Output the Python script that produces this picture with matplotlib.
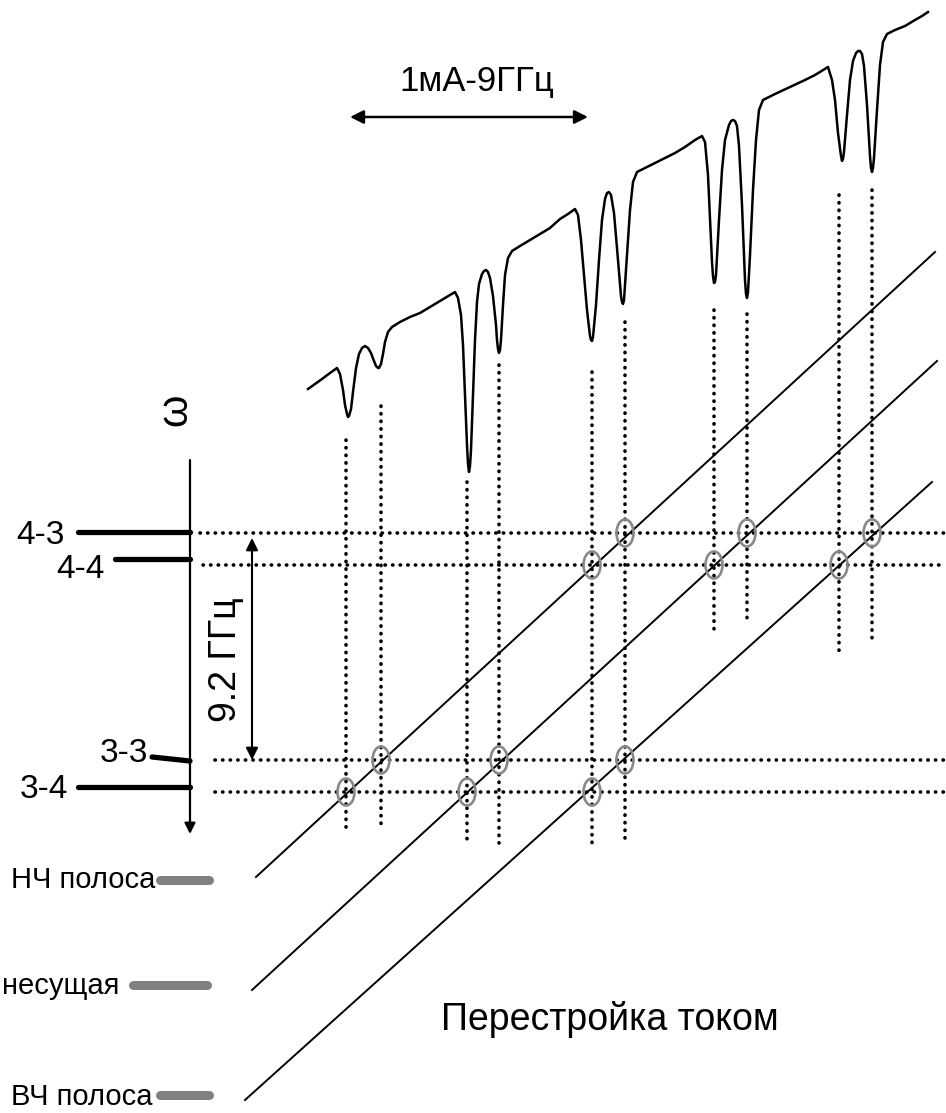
import matplotlib
matplotlib.use("Agg")
import matplotlib.pyplot as plt
from matplotlib.patches import Ellipse

# --- data (pixel coordinates of the schematic) ---
TRACE_X = [308, 315, 322, 330, 337,
           340, 343, 345, 347, 348, 349, 351, 353, 356, 359, 362, 365, 368, 371, 374, 376, 378, 379,
           381, 383, 385, 388, 392,
           400, 410, 420, 430, 440, 450, 455,
           458, 461, 463, 465, 467, 468, 469, 470, 471, 473, 475, 477, 479, 482, 484, 486, 488, 490,
           493, 496, 497, 498, 499, 500, 501, 503, 505, 508, 512,
           520, 530, 540, 550, 560, 568, 575,
           578, 581, 584, 587, 589, 590, 591, 592, 593, 596, 599, 602, 605, 607, 609, 611, 614, 617,
           620, 621, 622, 623, 624, 627, 630, 633, 637,
           645, 655, 665, 675, 685, 695, 702,
           705, 708, 711, 712, 713, 714, 715, 716, 719, 722, 725, 729, 731, 733, 735, 737, 739, 742,
           744, 745, 746, 747, 748, 750, 753, 756, 759, 763,
           775, 790, 805, 815, 828,
           832, 835, 838, 840, 841, 842, 843, 844, 847, 850, 853, 856, 858, 860, 862, 864, 867, 869,
           870, 871, 872, 873, 874, 877, 880, 883, 887,
           895, 905, 915, 922, 928]
TRACE_Y = [389, 384, 379, 373, 368,
           374, 390, 405, 414, 417, 416, 409, 392, 368, 354, 348, 346, 348, 353, 361, 366, 368, 368,
           364, 354, 342, 332, 327,
           322, 317, 313, 307, 301, 295, 292,
           298, 315, 345, 395, 445, 464, 472, 466, 450, 395, 340, 302, 284, 274, 271, 270, 272, 278,
           296, 325, 340, 349, 353, 350, 340, 305, 275, 258, 251,
           246, 240, 234, 228, 219, 214, 209,
           215, 240, 275, 310, 328, 336, 340, 341, 337, 305, 260, 220, 199, 193, 192, 195, 213, 248,
           285, 296, 302, 304, 300, 255, 210, 182, 172,
           168, 163, 158, 153, 147, 140, 136,
           142, 175, 240, 262, 276, 283, 282, 275, 220, 170, 140, 125, 121, 120, 121, 126, 146, 205,
           256, 280, 294, 298, 292, 255, 190, 140, 110, 100,
           94, 87, 80, 75, 67,
           80, 100, 133, 148, 156, 161, 159, 152, 115, 80, 61, 53, 51, 51, 54, 66, 105, 140,
           156, 168, 172, 168, 158, 110, 65, 42, 34,
           30, 26, 20, 16, 12]

# positions of the absorption dips (vertical dotted markers)
DIP_X = [346, 381, 467, 499, 592, 625, 714, 747, 839, 872]
DIP_TOP = [440, 406, 482, 365, 372, 322, 310, 314, 195, 190]
DIP_BOT = [830, 828, 843, 843, 845, 845, 635, 624, 652, 638]

# hyperfine levels: label, level line (x0, y0, x1, y1), label position
LEVEL_NAMES = ["4-3", "4-4", "3-3", "3-4"]
LEVEL_SEG = [(78, 532, 190, 532), (115, 559, 190, 559), (152, 757, 190, 761), (78, 787, 190, 787)]
LEVEL_LABEL_XY = [(40, 535), (80, 570), (124, 753), (44, 790)]
DOT_Y = [533, 565, 760, 792]
DOT_X0 = [200, 203, 215, 215]

# crossings marked with grey ellipses: (dip index, level index)
CROSS = [(0, 3), (1, 2), (4, 1), (5, 0),
         (2, 3), (3, 2), (6, 1), (7, 0),
         (4, 3), (5, 2), (8, 1), (9, 0)]

# laser modes: label, grey bar, tuning line
MODE_NAMES = ["НЧ полоса", "несущая", "ВЧ полоса"]
MODE_LABEL_XY = [(11, 880), (2, 986), (11, 1097)]
MODE_BAR = [(160, 209, 880), (133, 207, 985), (160, 209, 1095)]
TUNE_LINES = [(256, 877, 935, 252), (252, 990, 937, 361), (245, 1100, 932, 482)]

REG = ["Liberation Sans", "DejaVu Sans"]
DOT = (0, (0.1, 2.0))

fig = plt.figure(figsize=(9.46, 11.13), dpi=100)
ax = fig.add_axes([0, 0, 1, 1])
ax.set_xlim(0, 946)
ax.set_ylim(1113, 0)
ax.axis("off")

# trace
ax.plot(TRACE_X, TRACE_Y, color="black", lw=1.8, solid_joinstyle="round")

# vertical dotted lines under the dips
for x, t, b in zip(DIP_X, DIP_TOP, DIP_BOT):
    ax.plot([x, x], [t, b], color="black", lw=2.6, ls=DOT, dash_capstyle="round")

# horizontal dotted lines at the levels
for y, x0 in zip(DOT_Y, DOT_X0):
    ax.plot([x0, 946], [y, y], color="black", lw=2.6, ls=DOT, dash_capstyle="round")

# tuning lines
for x0, y0, x1, y1 in TUNE_LINES:
    ax.plot([x0, x1], [y0, y1], color="black", lw=1.4)

# crossing ellipses
for i, j in CROSS:
    ax.add_patch(Ellipse((DIP_X[i], DOT_Y[j]), 17, 27, fill=False,
                         edgecolor="#888888", lw=1.9, zorder=3))

# frequency axis
ax.annotate("", xy=(190, 834), xytext=(190, 460),
            arrowprops=dict(arrowstyle="-|>", lw=1.6, color="black",
                            mutation_scale=16, shrinkA=0, shrinkB=0))
ax.text(175, 410, "ω", rotation=90, ha="center", va="center", fontsize=30, family=REG)

# levels
for name, (x0, y0, x1, y1), (lx, ly) in zip(LEVEL_NAMES, LEVEL_SEG, LEVEL_LABEL_XY):
    ax.plot([x0, x1], [y0, y1], color="black", lw=3.8, solid_capstyle="round")
    ax.text(lx, ly, name, ha="center", va="center", fontsize=24, family=REG)

# 9.2 GHz splitting
ax.annotate("", xy=(252, 538), xytext=(252, 760),
            arrowprops=dict(arrowstyle="<|-|>", lw=1.5, color="black",
                            mutation_scale=18, shrinkA=0, shrinkB=0))
ax.text(226, 660, "9.2 ГГц", rotation=90, ha="center", va="center", fontsize=27, family=REG)

# current-to-frequency scale
ax.annotate("", xy=(350, 117), xytext=(588, 117),
            arrowprops=dict(arrowstyle="<|-|>", lw=1.8, color="black",
                            mutation_scale=20, shrinkA=0, shrinkB=0))
ax.text(477, 82, "1мА-9ГГц", ha="center", va="center", fontsize=25, family=REG)

# laser modes
for name, (lx, ly), (bx0, bx1, by) in zip(MODE_NAMES, MODE_LABEL_XY, MODE_BAR):
    ax.plot([bx0, bx1], [by, by], color="#808080", lw=6.5, solid_capstyle="round")
    ax.text(lx, ly, name, ha="left", va="center", fontsize=21, family=REG)

ax.text(610, 1020, "Перестройка током", ha="center", va="center", fontsize=27, family=REG)

fig.savefig("out.png", dpi=100)
